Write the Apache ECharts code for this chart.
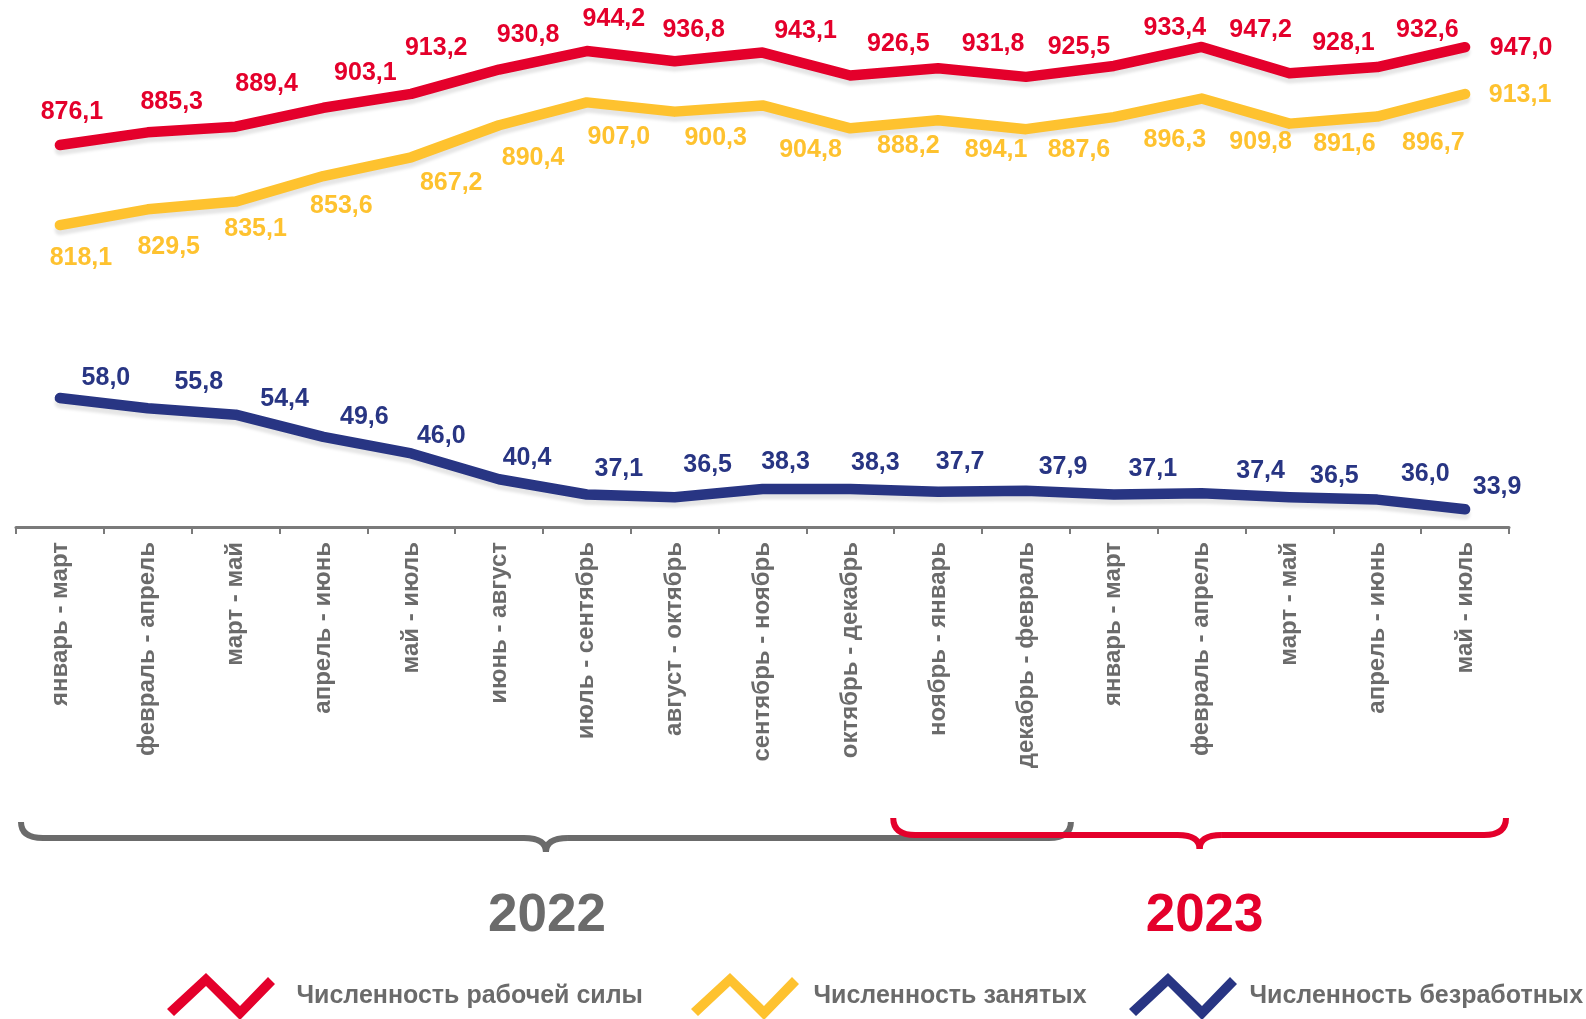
<!DOCTYPE html>
<html>
<head>
<meta charset="utf-8">
<script src="https://cdn.jsdelivr.net/npm/echarts@6/dist/echarts.min.js"></script>
<style>
  html, body { margin: 0; padding: 0; background: #fff; }
  #chart { width: 1586px; height: 1019px; }
</style>
</head>
<body>
<div id="chart"></div>
<script>
// periods (three-month sliding windows)
const periods = [
  "январь - март", "февраль - апрель", "март - май", "апрель - июнь", "май - июль",
  "июнь - август", "июль - сентябрь", "август - октябрь", "сентябрь - ноябрь",
  "октябрь - декабрь", "ноябрь - январь", "декабрь - февраль", "январь - март",
  "февраль - апрель", "март - май", "апрель - июнь", "май - июль"
];

const labourForce = [876.1, 885.3, 889.4, 903.1, 913.2, 930.8, 944.2, 936.8, 943.1, 926.5, 931.8, 925.5, 933.4, 947.2, 928.1, 932.6, 947.0];
const employed = [818.1, 829.5, 835.1, 853.6, 867.2, 890.4, 907.0, 900.3, 904.8, 888.2, 894.1, 887.6, 896.3, 909.8, 891.6, 896.7, 913.1];
const unemployed = [58.0, 55.8, 54.4, 49.6, 46.0, 40.4, 37.1, 36.5, 38.3, 38.3, 37.7, 37.9, 37.1, 37.4, 36.5, 36.0, 33.9];

const seriesNames = ["Численность рабочей силы", "Численность занятых", "Численность безработных"];
const years = ["2022", "2023"];

// label nudges, as the labels were hand-placed in the original
const redDx = [12, 24, 31, 42, 25, 29, 27, 19, 43, 48, 55, 53, 61, 59, 54, 50, 56];
const redDy = [-33, -30, -43, -35, -46, -34, -32, -31, -21, -31, -24, -30, -38, -17, -30, -37, 1];
const yelDx = [21, 21, 20, 18, 40, 34, 32, 41, 48, 58, 58, 53, 61, 59, 55, 56, 55];
const yelDy = [33, 38, 28, 30, 26, 33, 35, 26, 45, 18, 30, 21, 23, 44, 20, 27, 1];
const bluDx = [46, 51, 49, 41, 30, 28, 32, 33, 23, 25, 22, 37, 39, 59, 45, 48, 32];
const bluDy = [-20, -26, -16, -20, -17, -21, -25, -32, -27, -26, -30, -24, -25, -22, -21, -26, -22];

const RED = "#E4002B";
const YELLOW = "#FEC22F";
const BLUE = "#283583";
const GRAY = "#6B6B6B";
const FONT = "'Liberation Sans', Arial, sans-serif";

const zigzag = "path://M0,36 L39,0 L73,33 L101,4 L108,11 L73,47 L39,13 L7,43 Z";

function withLabels(values, dx, dy) {
  return values.map((v, i) => ({ value: v, label: { offset: [dx[i], dy[i]] } }));
}

function lineSeries(name, values, color, yAxisIndex, dx, dy) {
  return {
    name: name,
    type: "line",
    yAxisIndex: yAxisIndex,
    data: withLabels(values, dx, dy),
    symbol: "circle",
    symbolSize: 0.1,
    itemStyle: { color: color },
    lineStyle: {
      color: color,
      width: 10.5,
      cap: "round",
      join: "round",
      shadowColor: "rgba(0,0,0,0.10)",
      shadowBlur: 3,
      shadowOffsetY: 5
    },
    label: {
      show: true,
      position: "inside",
      color: color,
      fontFamily: FONT,
      fontWeight: "bold",
      fontSize: 25,
      formatter: (p) => p.value.toFixed(1).replace(".", ",")
    },
    emphasis: { disabled: true }
  };
}

function legendAt(left, name, color, gap) {
  return {
    left: left,
    top: 973,
    padding: 0,
    selectedMode: false,
    icon: zigzag,
    itemWidth: 111,
    itemHeight: 47,
    data: [{ name: name, itemStyle: { color: color, borderWidth: 0 } }],
    textStyle: {
      color: GRAY,
      fontFamily: FONT,
      fontWeight: "bold",
      fontSize: 25,
      padding: [0, 0, 0, gap]
    }
  };
}

const chart = echarts.init(document.getElementById("chart"));

const option = {
  animation: false,
  backgroundColor: "#fff",
  grid: { left: 16, right: 77, top: 20, bottom: 492 },
  xAxis: {
    type: "category",
    data: periods,
    boundaryGap: true,
    axisLine: { lineStyle: { color: "#7A7A7A", width: 3 } },
    axisTick: { show: true, length: 7, lineStyle: { color: "#7A7A7A", width: 2 } },
    axisLabel: {
      interval: 0,
      rotate: 90,
      margin: 15,
      color: "#6B6B6B",
      fontFamily: FONT,
      fontWeight: "bold",
      fontSize: 24
    },
    splitLine: { show: false }
  },
  yAxis: [
    { type: "value", min: 599.3, max: 966.7, show: false, splitLine: { show: false } },
    { type: "value", min: 30.07, max: 139.86, show: false, splitLine: { show: false } }
  ],
  legend: [
    legendAt(167, seriesNames[0], RED, 15),
    legendAt(691, seriesNames[1], YELLOW, 8),
    legendAt(1129, seriesNames[2], BLUE, 6)
  ],
  series: [
    lineSeries(seriesNames[0], labourForce, RED, 0, redDx, redDy),
    lineSeries(seriesNames[1], employed, YELLOW, 0, yelDx, yelDy),
    lineSeries(seriesNames[2], unemployed, BLUE, 1, bluDx, bluDy)
  ]
};

chart.setOption(option);

// year braces under the axis, spanning category boundaries
function brace(x1, x2, L, h, d, color, z) {
  const xm = (x1 + x2) / 2;
  const r = 22;
  const st = { fill: null, stroke: color, lineWidth: 6 };
  const curve = (ax, ay, cx, cy, bx, by) => ({
    type: "bezierCurve", z: z, style: st,
    shape: { x1: ax, y1: ay, cpx1: cx, cpy1: cy, x2: bx, y2: by }
  });
  const seg = (ax, bx) => ({
    type: "line", z: z, style: st,
    shape: { x1: ax, y1: L, x2: bx, y2: L }
  });
  return [
    curve(x1, L - h, x1, L, x1 + r, L),
    seg(x1 + r - 0.5, xm - r + 0.5),
    curve(xm - r, L, xm, L, xm, L + d),
    curve(xm, L + d, xm, L, xm + r, L),
    seg(xm + r - 0.5, x2 - r + 0.5),
    curve(x2 - r, L, x2, L, x2, L - h)
  ];
}

const c0 = chart.convertToPixel({ xAxisIndex: 0 }, 0);
const c1 = chart.convertToPixel({ xAxisIndex: 0 }, 1);
const step = c1 - c0;
const edge = (k) => c0 - step / 2 + k * step;

const g1 = [edge(0) + 5, edge(12) + 1];
const g2 = [edge(10) - 1, edge(17) - 3];

const yearText = (x, text, color) => ({
  type: "text",
  x: x,
  y: 916,
  z: 12,
  style: {
    text: text,
    fill: color,
    font: "bold 53px " + FONT,
    align: "center",
    verticalAlign: "middle"
  }
});

chart.setOption({
  graphic: []
    .concat(brace(g1[0], g1[1], 838, 16, 14, GRAY, 10))
    .concat(brace(g2[0], g2[1], 835, 17, 14, RED, 11))
    .concat([
      yearText((g1[0] + g1[1]) / 2 + 1, years[0], GRAY),
      yearText((g2[0] + g2[1]) / 2 + 5, years[1], RED)
    ])
});
</script>
</body>
</html>
